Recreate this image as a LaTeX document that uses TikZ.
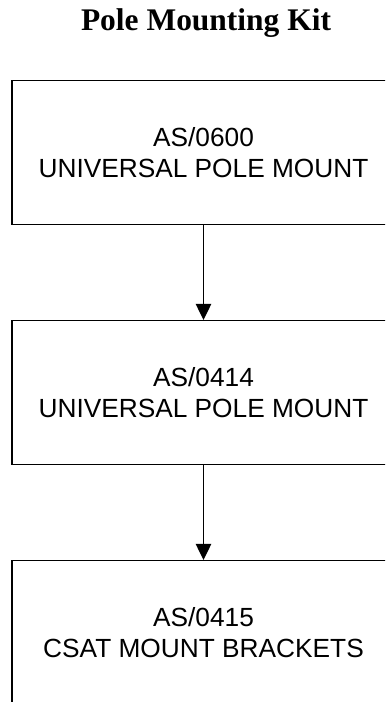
\documentclass[tikz,border=0pt]{standalone}
\usepackage{fontspec}
\setmainfont{Liberation Serif}
\newfontfamily\boxfont{Liberation Sans}
\usetikzlibrary{arrows.meta,positioning}
\tikzset{
  >={Triangle[length=12pt,width=11.5pt]},
  part/.style={draw=black,line width=1.1pt,minimum width=287.3pt,minimum height=107.7pt,
    align=center,inner sep=0pt,font=\boxfont\fontsize{19.7}{23.8}\selectfont},
  link/.style={->,line width=1.1pt,draw=black},
  heading/.style={font=\bfseries\fontsize{23.6}{28}\selectfont,anchor=base,inner sep=0pt},
}
\begin{document}
\begin{tikzpicture}[x=0.75pt,y=-0.75pt]
  \clip (0,0) rectangle (385,702);
  \node[heading] (title) at (206,31) {Pole Mounting Kit};
  % the three kit parts
  \node[part] (mount) at (203.5,152.5) {AS/0600\\UNIVERSAL POLE MOUNT};
  \node[part] (pole) at (203.5,392.5) {AS/0414\\UNIVERSAL POLE MOUNT};
  \node[part] (csat) at (203.5,632.5) {AS/0415\\CSAT MOUNT BRACKETS};
  \draw[link] (mount) -- (pole);
  \draw[link] (pole) -- (csat);
\end{tikzpicture}
\end{document}
